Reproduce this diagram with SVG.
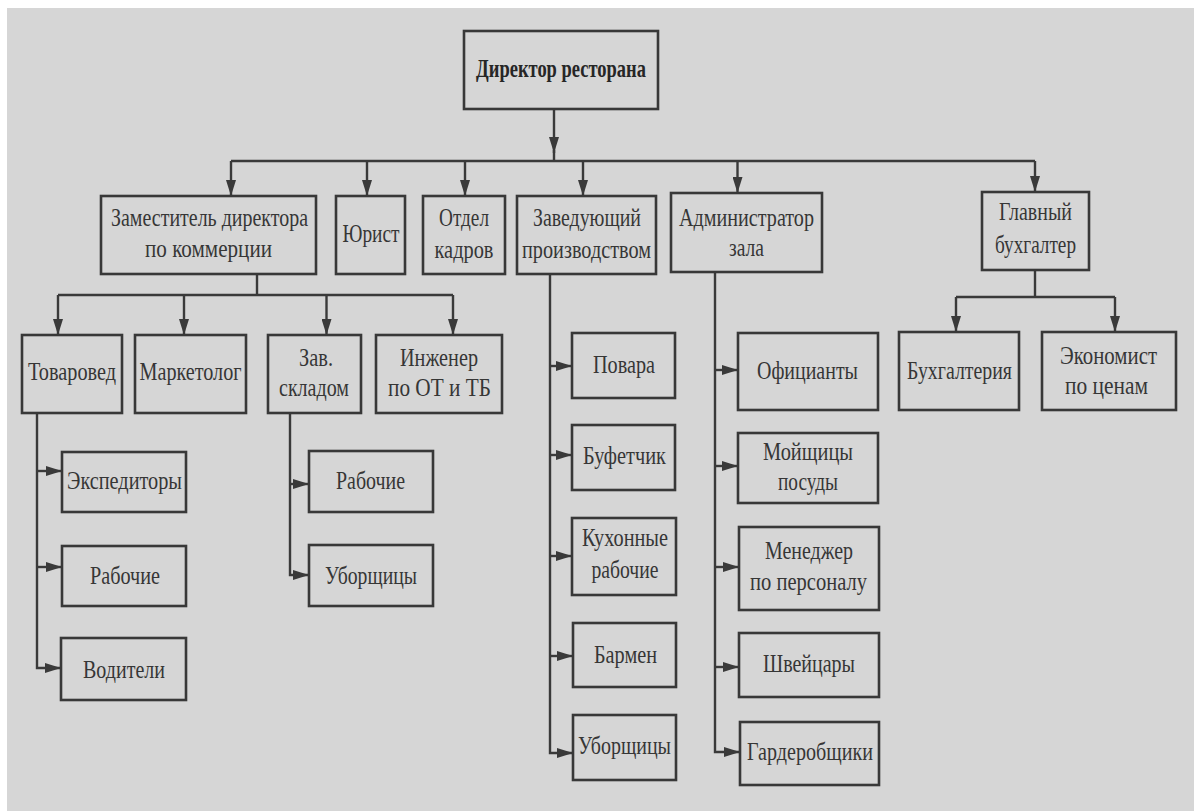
<svg xmlns="http://www.w3.org/2000/svg" width="1194" height="811" viewBox="0 0 1194 811">
<defs>
<style>
.bx{fill:#d6d6d6;stroke:#383838;stroke-width:2.6}
.t{font-family:"Liberation Serif","DejaVu Serif",serif;font-size:26px;fill:#363636;text-anchor:middle}
.s{font-size:25px}
.b{font-weight:bold;fill:#262626}
.c{fill:none;stroke:#3a3a3a;stroke-width:2.4}
</style>
<marker id="ah" markerUnits="userSpaceOnUse" markerWidth="16" markerHeight="10" viewBox="0 0 16 10" refX="16" refY="5" orient="auto">
<path d="M0,0 L16,5 L0,10 Z" fill="#3a3a3a"/>
</marker>
</defs>
<rect x="0" y="0" width="1194" height="811" fill="#ffffff"/>
<rect x="7" y="8" width="1187" height="803" fill="#d6d6d6"/>

<g id="connectors">
<path class="c" d="M554 109 V153" marker-end="url(#ah)"/>
<path class="c" d="M554 150 V161"/>
<path class="c" d="M231 161 H1035"/>
<path class="c" d="M231 161 V196" marker-end="url(#ah)"/>
<path class="c" d="M367 161 V196" marker-end="url(#ah)"/>
<path class="c" d="M465 161 V196" marker-end="url(#ah)"/>
<path class="c" d="M583 161 V196" marker-end="url(#ah)"/>
<path class="c" d="M737.5 161 V193" marker-end="url(#ah)"/>
<path class="c" d="M1035 161 V192" marker-end="url(#ah)"/>

<path class="c" d="M257 274 V295"/>
<path class="c" d="M58 295 H453"/>
<path class="c" d="M58 295 V335" marker-end="url(#ah)"/>
<path class="c" d="M184 295 V335" marker-end="url(#ah)"/>
<path class="c" d="M326.5 295 V335" marker-end="url(#ah)"/>
<path class="c" d="M453 295 V335" marker-end="url(#ah)"/>

<path class="c" d="M37 413 V668 H61" marker-end="url(#ah)"/>
<path class="c" d="M37 471 H62" marker-end="url(#ah)"/>
<path class="c" d="M37 567 H62" marker-end="url(#ah)"/>

<path class="c" d="M290 413 V575 H309" marker-end="url(#ah)"/>
<path class="c" d="M290 484 H309" marker-end="url(#ah)"/>

<path class="c" d="M550 274 V753 H573" marker-end="url(#ah)"/>
<path class="c" d="M550 366 H572" marker-end="url(#ah)"/>
<path class="c" d="M550 455 H572" marker-end="url(#ah)"/>
<path class="c" d="M550 556 H572" marker-end="url(#ah)"/>
<path class="c" d="M550 656 H573" marker-end="url(#ah)"/>

<path class="c" d="M715 272 V752 H740" marker-end="url(#ah)"/>
<path class="c" d="M715 370 H738" marker-end="url(#ah)"/>
<path class="c" d="M715 466 H738" marker-end="url(#ah)"/>
<path class="c" d="M715 567 H739" marker-end="url(#ah)"/>
<path class="c" d="M715 667 H739" marker-end="url(#ah)"/>

<path class="c" d="M1035 270 V297"/>
<path class="c" d="M956 297 H1115"/>
<path class="c" d="M956 297 V332" marker-end="url(#ah)"/>
<path class="c" d="M1115 297 V332" marker-end="url(#ah)"/>
</g>

<g id="director"><rect class="bx" x="464" y="31" width="194" height="78"/>
<text class="t b" x="561" y="77" textLength="170" lengthAdjust="spacingAndGlyphs">Директор ресторана</text></g>

<g id="deputy"><rect class="bx" x="101" y="196" width="215" height="78"/>
<text class="t s" x="209.5" y="226" textLength="197" lengthAdjust="spacingAndGlyphs">Заместитель директора</text>
<text class="t" x="208.5" y="257" textLength="127" lengthAdjust="spacingAndGlyphs">по коммерции</text></g>

<g id="lawyer"><rect class="bx" x="336" y="196" width="69" height="78"/>
<text class="t s" x="371" y="242" textLength="57" lengthAdjust="spacingAndGlyphs">Юрист</text></g>

<g id="hr"><rect class="bx" x="423" y="196" width="82" height="78"/>
<text class="t" x="464" y="226" textLength="50" lengthAdjust="spacingAndGlyphs">Отдел</text>
<text class="t" x="464" y="258" textLength="59" lengthAdjust="spacingAndGlyphs">кадров</text></g>

<g id="production"><rect class="bx" x="517" y="196" width="139" height="78"/>
<text class="t" x="587" y="226" textLength="108" lengthAdjust="spacingAndGlyphs">Заведующий</text>
<text class="t" x="586.5" y="258" textLength="129" lengthAdjust="spacingAndGlyphs">производством</text></g>

<g id="admin"><rect class="bx" x="671" y="193" width="151" height="79"/>
<text class="t" x="746.5" y="226" textLength="135" lengthAdjust="spacingAndGlyphs">Администратор</text>
<text class="t" x="746.5" y="256" textLength="35" lengthAdjust="spacingAndGlyphs">зала</text></g>

<g id="chief-accountant"><rect class="bx" x="982" y="192" width="107" height="78"/>
<text class="t" x="1035.5" y="220" textLength="73" lengthAdjust="spacingAndGlyphs">Главный</text>
<text class="t" x="1035.5" y="253" textLength="81" lengthAdjust="spacingAndGlyphs">бухгалтер</text></g>

<g id="merchandiser"><rect class="bx" x="22" y="335" width="100" height="78"/>
<text class="t" x="72" y="380" textLength="88" lengthAdjust="spacingAndGlyphs">Товаровед</text></g>

<g id="marketer"><rect class="bx" x="135" y="335" width="111" height="78"/>
<text class="t" x="190.5" y="380" textLength="102" lengthAdjust="spacingAndGlyphs">Маркетолог</text></g>

<g id="warehouse"><rect class="bx" x="268" y="335" width="93" height="78"/>
<text class="t" x="316" y="366" textLength="34" lengthAdjust="spacingAndGlyphs">Зав.</text>
<text class="t" x="314" y="396" textLength="70" lengthAdjust="spacingAndGlyphs">складом</text></g>

<g id="engineer"><rect class="bx" x="376" y="335" width="126" height="78"/>
<text class="t" x="439" y="366" textLength="78" lengthAdjust="spacingAndGlyphs">Инженер</text>
<text class="t" x="439.5" y="396" textLength="103" lengthAdjust="spacingAndGlyphs">по ОТ и ТБ</text></g>

<g id="expeditors"><rect class="bx" x="62" y="452" width="124" height="60"/>
<text class="t" x="124.5" y="489" textLength="115" lengthAdjust="spacingAndGlyphs">Экспедиторы</text></g>

<g id="workers-1"><rect class="bx" x="62" y="546" width="124" height="60"/>
<text class="t" x="125" y="584" textLength="70" lengthAdjust="spacingAndGlyphs">Рабочие</text></g>

<g id="drivers"><rect class="bx" x="61" y="638" width="125" height="62"/>
<text class="t" x="124" y="678" textLength="82" lengthAdjust="spacingAndGlyphs">Водители</text></g>

<g id="workers-2"><rect class="bx" x="309" y="451" width="124" height="61"/>
<text class="t" x="370.5" y="489" textLength="69" lengthAdjust="spacingAndGlyphs">Рабочие</text></g>

<g id="cleaners-1"><rect class="bx" x="309" y="545" width="124" height="61"/>
<text class="t" x="371" y="584" textLength="92" lengthAdjust="spacingAndGlyphs">Уборщицы</text></g>

<g id="cooks"><rect class="bx" x="572" y="333" width="103" height="65"/>
<text class="t" x="624" y="373" textLength="62" lengthAdjust="spacingAndGlyphs">Повара</text></g>

<g id="buffet"><rect class="bx" x="572" y="425" width="103" height="65"/>
<text class="t" x="624.5" y="464" textLength="83" lengthAdjust="spacingAndGlyphs">Буфетчик</text></g>

<g id="kitchen-workers"><rect class="bx" x="572" y="518" width="104" height="77"/>
<text class="t" x="625" y="546" textLength="86" lengthAdjust="spacingAndGlyphs">Кухонные</text>
<text class="t" x="625" y="578" textLength="67" lengthAdjust="spacingAndGlyphs">рабочие</text></g>

<g id="bartender"><rect class="bx" x="573" y="623" width="103" height="64"/>
<text class="t" x="625.5" y="663" textLength="63" lengthAdjust="spacingAndGlyphs">Бармен</text></g>

<g id="cleaners-2"><rect class="bx" x="573" y="715" width="103" height="65"/>
<text class="t" x="624.5" y="754" textLength="93" lengthAdjust="spacingAndGlyphs">Уборщицы</text></g>

<g id="waiters"><rect class="bx" x="738" y="333" width="140" height="77"/>
<text class="t" x="807.5" y="379" textLength="101" lengthAdjust="spacingAndGlyphs">Официанты</text></g>

<g id="dishwashers"><rect class="bx" x="738" y="433" width="140" height="70"/>
<text class="t" x="808" y="460" textLength="90" lengthAdjust="spacingAndGlyphs">Мойщицы</text>
<text class="t" x="808" y="490" textLength="60" lengthAdjust="spacingAndGlyphs">посуды</text></g>

<g id="staff-manager"><rect class="bx" x="739" y="527" width="140" height="83"/>
<text class="t" x="809" y="559" textLength="88" lengthAdjust="spacingAndGlyphs">Менеджер</text>
<text class="t" x="808.5" y="590" textLength="117" lengthAdjust="spacingAndGlyphs">по персоналу</text></g>

<g id="doormen"><rect class="bx" x="739" y="633" width="140" height="64"/>
<text class="t" x="809" y="672" textLength="92" lengthAdjust="spacingAndGlyphs">Швейцары</text></g>

<g id="cloakroom"><rect class="bx" x="740" y="722" width="139" height="63"/>
<text class="t" x="810" y="760" textLength="126" lengthAdjust="spacingAndGlyphs">Гардеробщики</text></g>

<g id="accounting"><rect class="bx" x="899" y="332" width="120" height="78"/>
<text class="t" x="959.5" y="379" textLength="105" lengthAdjust="spacingAndGlyphs">Бухгалтерия</text></g>

<g id="economist"><rect class="bx" x="1042" y="332" width="134" height="78"/>
<text class="t" x="1108.5" y="364" textLength="97" lengthAdjust="spacingAndGlyphs">Экономист</text>
<text class="t" x="1106.5" y="394" textLength="83" lengthAdjust="spacingAndGlyphs">по ценам</text></g>
</svg>
